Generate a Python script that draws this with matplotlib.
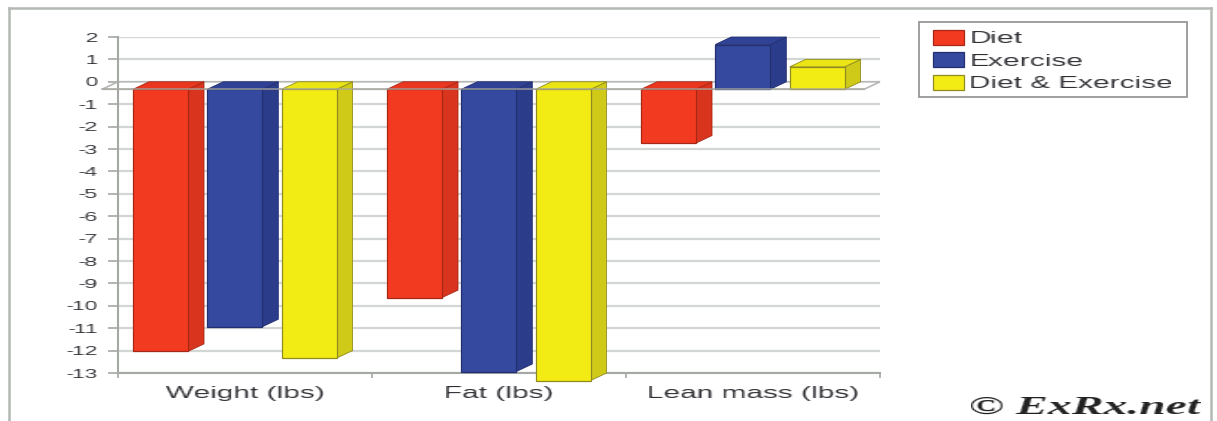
import numpy as np
import matplotlib
matplotlib.use('Agg')
import matplotlib.pyplot as plt
from matplotlib.lines import Line2D
from matplotlib.patches import Patch, Polygon, Rectangle

categories = ['Weight (lbs)', 'Fat (lbs)', 'Lean mass (lbs)']
series_names = ['Diet', 'Exercise', 'Diet & Exercise']
diet = [-11.7, -9.3, -2.4]
exercise = [-10.6, -12.6, 2.0]
diet_exercise = [-12.0, -13.0, 1.0]
y_ticks = list(range(-13, 3))

W, H = 1217, 421
front = ['#f23a20', '#354a9f', '#f3ec14']
side = ['#d8341e', '#2b3c8a', '#cfca18']
top = ['#ea371f', '#2f4295', '#ece515']
edge = ['#a82816', '#232f70', '#8f8b20']
GRID = '#d3d7d3'
AXIS = '#a4a9a4'
TEXT = '#2e2e34'

plt.rcParams['font.family'] = ['Liberation Sans', 'DejaVu Sans']
plt.rcParams['axes.unicode_minus'] = False


def stretch(factor, anchor):
    # the original picture is squashed, so widen the drawn text sideways
    def f(img, dpi):
        h, w = img.shape[:2]
        new_w = int(round(w * factor))
        xs = np.linspace(0, w - 1, new_w)
        i0 = np.floor(xs).astype(int)
        i1 = np.minimum(i0 + 1, w - 1)
        t = (xs - i0)[None, :, None]
        out = img[:, i0] * (1 - t) + img[:, i1] * t
        return out, int(-(new_w - w) * anchor), 0
    return f


fig = plt.figure(figsize=(W / 100, H / 100), dpi=100, facecolor='white')
ax = fig.add_axes([118 / W, 1 - 373 / H, (880 - 118) / W, (373 - 37) / H])
ax.set_xlim(0, 3)
ax.set_ylim(-13, 2)

dx = 16 / 254
dy = 7.5 / 22.4
bar_w = 55 / 254
pitch = 74.3 / 254
start = 15 / 254

# outer frame, open at the bottom
for xs, ys in [([9, 9], [421, 8]), ([9, 1211], [8, 8]), ([1211, 1211], [8, 421])]:
    fig.add_artist(Line2D([x / W for x in xs], [1 - y / H for y in ys], color='#b4b9b4', lw=1.8))

# grid and axes
ax.set_yticks(y_ticks)
ax.set_xticks([0, 1, 2, 3], labels=[])
ax.set_xticks([0.5, 1.5, 2.5], labels=categories, minor=True)
ax.grid(axis='y', color=GRID, lw=1.6, zorder=0)
ax.set_axisbelow(True)
for s in ['top', 'right']:
    ax.spines[s].set_visible(False)
for s in ['left', 'bottom']:
    ax.spines[s].set_color(AXIS)
    ax.spines[s].set_linewidth(1.5)
ax.tick_params(axis='y', length=7, width=1.2, color=AXIS, pad=8, labelsize=9, labelcolor=TEXT)
ax.tick_params(axis='x', which='major', length=3.5, width=1.2, color=AXIS)
ax.tick_params(axis='x', which='minor', length=0, pad=9.5, labelsize=11.8, labelcolor=TEXT)

# floor at zero
floor = Polygon([(0, 0), (3, 0), (3 - dx, -dy), (-dx, -dy)], closed=True, facecolor='white',
                edgecolor='#b5b8b5', lw=1.2, clip_on=False, zorder=1)
ax.add_patch(floor)

all_values = [diet, exercise, diet_exercise]
for s, values in enumerate(all_values):
    for c, v in enumerate(values):
        x0 = c + start + s * pitch
        x1 = x0 + bar_w
        y_top = max(v, 0) - dy
        y_bot = min(v, 0) - dy
        ax.add_patch(Polygon([(x1, y_top), (x1 + dx, y_top + dy), (x1 + dx, y_bot + dy), (x1, y_bot)],
                             closed=True, facecolor=side[s], edgecolor=edge[s], lw=0.6,
                             clip_on=False, zorder=3))
        ax.add_patch(Polygon([(x0, y_top), (x0 + dx, y_top + dy), (x1 + dx, y_top + dy), (x1, y_top)],
                             closed=True, facecolor=top[s], edgecolor=edge[s], lw=0.6,
                             clip_on=False, zorder=3))
    xs = [c + start + s * pitch for c in range(3)]
    ax.bar(xs, values, width=bar_w, bottom=-dy, align='edge', color=front[s], edgecolor=edge[s],
           linewidth=0.9, clip_on=False, zorder=4)

# front edge of the floor runs over the bars
ax.plot([-dx, 3 - dx], [-dy, -dy], color='#a8a8a0', lw=1.2, alpha=0.8, clip_on=False, zorder=5)

for label in ax.get_yticklabels():
    label.set_agg_filter(stretch(1.75, 1))
for label in ax.get_xticklabels(minor=True):
    label.set_agg_filter(stretch(1.82, 0.5))

# legend
fig.add_artist(Rectangle((919 / W, 1 - 97 / H), (1187 - 919) / W, (97 - 22) / H, transform=fig.transFigure,
                         facecolor='white', edgecolor='#8c908c', lw=1.2))
handles = [Patch(facecolor=front[i], edgecolor=edge[i], lw=0.9) for i in range(3)]
leg = fig.legend(handles, series_names, loc='upper left', bbox_to_anchor=(933 / W, 1 - 30 / H),
                 frameon=False, borderpad=0, borderaxespad=0, fontsize=12.1, labelspacing=0.36,
                 handlelength=1.85, handleheight=1.0, handletextpad=0.36, labelcolor=TEXT)
for t in leg.get_texts():
    t.set_agg_filter(stretch(1.77, 0))

credit = fig.text(970 / W, 1 - 414 / H, '© ExRx.net', family=['Liberation Serif', 'DejaVu Serif'],
                  style='italic', weight='bold', fontsize=18, color='#222222', ha='left', va='baseline')
credit.set_agg_filter(stretch(1.9, 0))

fig.savefig('out.png', dpi=100)
